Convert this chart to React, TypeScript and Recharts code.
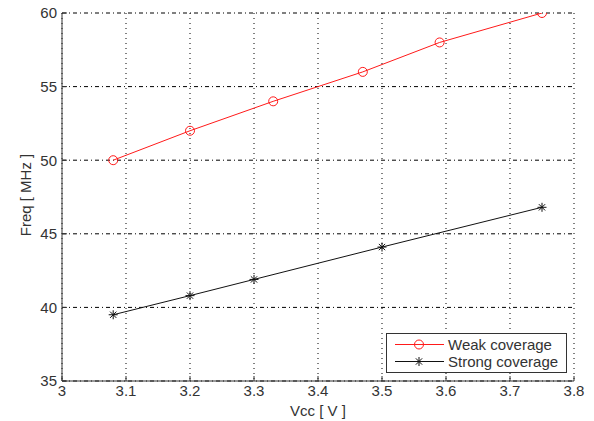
import React from 'react';
import { LineChart, Line, XAxis, YAxis, CartesianGrid, Legend } from 'recharts';

const vccWeak = [3.08, 3.2, 3.33, 3.47, 3.59, 3.75];
const freqWeak = [50, 52, 54, 56, 58, 60];
const vccStrong = [3.08, 3.2, 3.3, 3.5, 3.75];
const freqStrong = [39.5, 40.8, 41.9, 44.1, 46.8];
const xTicks = [3, 3.1, 3.2, 3.3, 3.4, 3.5, 3.6, 3.7, 3.8];
const yTicks = [35, 40, 45, 50, 55, 60];
const seriesNames = ['Weak coverage', 'Strong coverage'];

const weakData = vccWeak.map((v, i) => ({ vcc: v, freq: freqWeak[i] }));
const strongData = vccStrong.map((v, i) => ({ vcc: v, freq: freqStrong[i] }));

const RED = '#ff1a1a';
const BLACK = '#111';
const FONT = '"Liberation Sans", Arial, Helvetica, sans-serif';
const TXT = '#333';
const FS = 15;

const Circle = (props: any) => {
  const { cx, cy } = props;
  if (cx == null || cy == null) return null;
  return <circle cx={cx} cy={cy} r={4.5} fill="none" stroke={RED} strokeWidth={1} />;
};

const Star = (props: any) => {
  const { cx, cy } = props;
  if (cx == null || cy == null) return null;
  const r = 4.5;
  const d = r * 0.7;
  return (
    <g stroke={BLACK} strokeWidth={1}>
      <line x1={cx - r} y1={cy} x2={cx + r} y2={cy} />
      <line x1={cx} y1={cy - r} x2={cx} y2={cy + r} />
      <line x1={cx - d} y1={cy - d} x2={cx + d} y2={cy + d} />
      <line x1={cx - d} y1={cy + d} x2={cx + d} y2={cy - d} />
    </g>
  );
};

const renderLegend = () => (
  <div
    style={{
      border: '1px solid #333',
      background: '#fff',
      width: 181,
      height: 40,
      boxSizing: 'border-box',
      fontFamily: FONT,
      fontSize: FS,
      color: TXT,
      paddingTop: 2,
      lineHeight: '17px',
    }}
  >
    {seriesNames.map((name, i) => (
      <div key={name} style={{ display: 'flex', alignItems: 'center', height: 17 }}>
        <svg width={60} height={17} style={{ display: 'block', flex: 'none' }}>
          <line x1={8} y1={8.5} x2={57} y2={8.5} stroke={i === 0 ? RED : BLACK} strokeWidth={1} />
          {i === 0 ? <Circle cx={32} cy={8.5} /> : <Star cx={32} cy={8.5} />}
        </svg>
        <span style={{ marginLeft: 1, whiteSpace: 'nowrap' }}>{name}</span>
      </div>
    ))}
  </div>
);

const tickStyle = { fontSize: FS, fill: TXT, fontFamily: FONT };

export default function App() {
  return (
    <div style={{ position: 'absolute', left: 0, top: 0, background: '#fff' }}>
      <LineChart width={594} height={421} margin={{ top: 13, right: 20, left: 0, bottom: 0 }}>
        <CartesianGrid xAxisId="b" yAxisId="l" horizontal={false} stroke="#000" strokeDasharray="1 4" />
        <CartesianGrid xAxisId="b" yAxisId="l" vertical={false} stroke="#000" strokeDasharray="4 3 1 3" />
        <XAxis
          xAxisId="b"
          type="number"
          dataKey="vcc"
          domain={[3, 3.8]}
          ticks={xTicks}
          allowDataOverflow
          height={40}
          stroke="#333"
          tickSize={-5}
          tickMargin={9}
          tick={tickStyle}
          label={(p: any) => (
            <text x={318} y={416} textAnchor="middle" fontSize={FS} fill={TXT} fontFamily={FONT}>
              Vcc [ V ]
            </text>
          )}
        />
        <XAxis
          xAxisId="t"
          orientation="top"
          type="number"
          dataKey="vcc"
          domain={[3, 3.8]}
          ticks={xTicks}
          allowDataOverflow
          height={0}
          stroke="#333"
          tickSize={-5}
          tick={false}
        />
        <YAxis
          yAxisId="l"
          type="number"
          domain={[35, 60]}
          ticks={yTicks}
          allowDataOverflow
          width={62}
          stroke="#333"
          tickSize={-5}
          tickMargin={10}
          tick={tickStyle}
          label={(p: any) => (
            <text
              x={25}
              y={195}
              transform="rotate(-90 25 195)"
              textAnchor="middle"
              dominantBaseline="central"
              fontSize={FS}
              fill={TXT}
              fontFamily={FONT}
            >
              Freq [ MHz ]
            </text>
          )}
        />
        <YAxis
          yAxisId="r"
          orientation="right"
          type="number"
          domain={[35, 60]}
          ticks={yTicks}
          allowDataOverflow
          width={0}
          stroke="#333"
          tickSize={-5}
          tick={false}
        />
        <Line
          xAxisId="b"
          yAxisId="l"
          data={weakData}
          dataKey="freq"
          name={seriesNames[0]}
          stroke={RED}
          strokeWidth={1}
          dot={<Circle />}
          activeDot={false}
          isAnimationActive={false}
          type="linear"
        />
        <Line
          xAxisId="b"
          yAxisId="l"
          data={strongData}
          dataKey="freq"
          name={seriesNames[1]}
          stroke={BLACK}
          strokeWidth={1}
          dot={<Star />}
          activeDot={false}
          isAnimationActive={false}
          type="linear"
        />
        <Legend
          layout="horizontal"
          verticalAlign="middle"
          align="center"
          content={renderLegend}
          wrapperStyle={{ position: 'absolute', left: 386, top: 333, width: 181, height: 40, bottom: 'auto', right: 'auto' }}
        />
      </LineChart>
    </div>
  );
}
